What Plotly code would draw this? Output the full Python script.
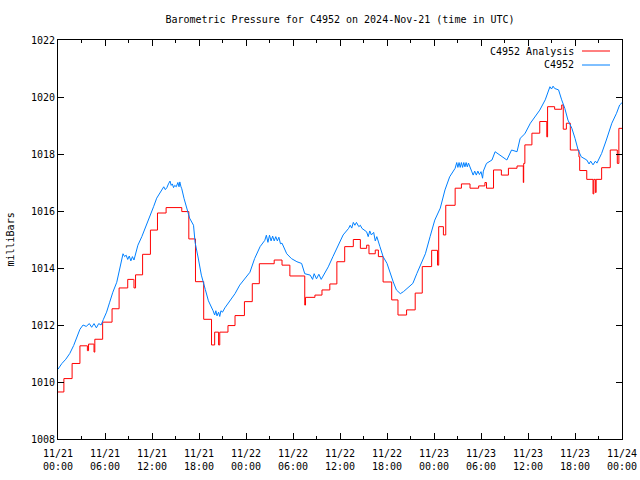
import plotly.graph_objects as go
from datetime import datetime, timedelta

start = datetime(2024, 11, 21, 0, 0)

# C4952 Analysis (step series): change hours and values (mb)
red_hours = [0.0, 0.75, 1.8, 2.8, 3.7, 3.75, 3.9, 4.55, 4.6, 4.7, 5.7, 6.9, 7.8, 8.9, 9.65, 9.7, 9.9,
             10.8, 11.8, 12.7, 13.8, 15.8, 16.7, 17.55, 18.6, 19.6, 20.0, 20.5, 20.65, 21.7,
             22.6, 23.8, 24.8, 25.7, 27.6, 28.6, 29.6, 31.5, 31.6, 32.8, 33.7, 34.7, 35.6,
             36.6, 37.7, 38.6, 39.4, 39.7, 40.5, 40.9, 41.5, 42.6, 43.4, 44.5, 45.6, 46.5,
             47.7, 48.4, 48.45, 48.6, 49.2, 49.5, 50.7, 51.5, 52.6, 53.7, 54.5, 54.7, 55.6,
             56.6, 57.5, 58.6, 59.4, 59.45, 59.6, 60.5, 61.5, 62.4, 62.5, 63.4, 64.3, 64.5,
             64.9, 65.4, 66.5, 66.6, 67.5, 68.3, 68.4, 68.6, 68.7, 69.4, 70.5, 71.4, 71.6, 72.0]
red_values = [1009.65, 1010.12, 1010.65, 1011.27, 1011.27, 1011.1, 1011.33, 1011.33, 1011.05, 1011.5,
              1012.1, 1012.57, 1013.3, 1013.6, 1013.6, 1013.3, 1013.76,
              1014.48, 1015.33, 1015.93, 1016.12, 1015.98, 1015.02, 1013.52, 1012.2, 1011.3,
              1011.75, 1011.3, 1011.75, 1011.98, 1012.33, 1012.82, 1013.45, 1014.15, 1014.28,
              1014.1, 1013.72, 1012.7, 1012.97, 1013.05, 1013.23, 1013.44, 1014.22, 1014.75,
              1015.0, 1014.69, 1014.8, 1014.5, 1014.63, 1014.4, 1013.51, 1012.88, 1012.35,
              1012.53, 1013.12, 1014.05, 1014.62, 1014.62, 1014.1, 1015.45, 1015.16, 1016.2,
              1016.8, 1016.95, 1016.8, 1016.88, 1017.0, 1016.8, 1017.44, 1017.26, 1017.5,
              1017.58, 1017.0, 1017.67, 1018.32, 1018.73, 1019.14, 1018.6, 1019.66, 1019.57,
              1019.72, 1018.87, 1019.08, 1018.14, 1017.9, 1017.42, 1017.11, 1016.6, 1017.11,
              1016.65, 1017.11, 1017.52, 1018.14, 1017.67, 1018.9, 1018.9]

# C4952 observed series: hours and values (mb)
blue_hours = [0, 0.5, 1.0, 1.5, 2.0, 2.4, 2.8, 3.2, 3.6, 4.0, 4.3, 4.6, 4.9, 5.2, 5.5, 5.8, 6.2,
              6.6, 7.0, 7.5, 7.9, 8.3, 8.5, 8.7, 8.9, 9.1, 9.3, 9.5, 9.7, 9.85, 10.2, 10.7,
              11.3, 11.7, 12.2, 12.6, 13.2, 13.5, 13.7, 13.9, 14.1, 14.3, 14.45, 14.6, 14.75,
              14.9, 15.1, 15.3, 15.45, 15.55, 15.7, 15.8, 16.1, 16.4, 16.8, 17.3, 17.5, 17.9,
              18.3, 18.8, 19.2, 19.8, 20.0, 20.15, 20.3, 20.5, 20.65, 20.8, 21.0, 21.3, 22.0,
              22.6, 23.2, 23.9, 24.5, 25.1, 25.8, 26.4, 26.6, 26.8, 27.0, 27.2, 27.4, 27.6,
              27.8, 28.0, 28.2, 28.4, 28.6, 29.2, 29.8, 30.5, 31.1, 31.5, 32.2, 32.5, 32.7,
              33.0, 33.3, 33.6, 33.9, 34.5, 35.1, 35.8, 36.4, 37.1, 37.3, 37.5, 37.7, 37.9,
              38.1, 38.4, 38.6, 38.8, 39.4, 39.6, 39.8, 40.0, 40.3, 40.5, 40.7, 41.1, 41.5,
              42.0, 42.4, 42.8, 43.2, 43.7, 44.1, 44.7, 45.3, 45.8, 46.2, 46.9, 47.5, 48.1,
              48.8, 49.4, 50.0, 50.7, 50.9, 51.05, 51.2, 51.35, 51.5, 51.65, 51.8, 51.95,
              52.1, 52.25, 52.4, 52.6, 52.8, 53.0, 53.2, 53.4, 53.6, 53.8, 54.0, 54.2, 54.3,
              54.7, 55.4, 55.8, 56.4, 57.3, 57.9, 58.6, 59.0, 59.6, 60.3, 60.9, 61.5, 62.2,
              62.8, 63.0, 63.2, 63.4, 63.9, 64.3, 64.7, 65.1, 65.6, 66.0, 66.4, 66.8, 67.5,
              67.8, 68.0, 68.3, 68.6, 68.8, 69.4, 70.0, 70.7, 71.3, 71.7, 72.0]
blue_values = [1010.45, 1010.65, 1010.8, 1011.0, 1011.28, 1011.6, 1011.85, 1012.0, 1011.95,
               1012.05, 1011.92, 1012.05, 1011.9, 1012.05, 1012.0, 1012.2, 1012.45, 1012.8,
               1013.15, 1013.5, 1014.05, 1014.5, 1014.4, 1014.45, 1014.3, 1014.42, 1014.25,
               1014.4, 1014.28, 1014.45, 1014.8, 1015.1,
               1015.5, 1015.8, 1016.15, 1016.45, 1016.72, 1016.85, 1016.75, 1016.82, 1016.95,
               1017.05, 1016.9, 1016.95, 1016.82, 1016.9, 1016.85, 1017.0, 1016.85, 1017.02,
               1016.85, 1016.78, 1016.43, 1016.1, 1015.75, 1015.5, 1014.9, 1014.35, 1013.75,
               1013.25, 1012.85, 1012.5, 1012.35, 1012.5, 1012.32, 1012.45, 1012.3, 1012.5,
               1012.45, 1012.6, 1012.88, 1013.1, 1013.4, 1013.64, 1013.85, 1014.33, 1014.75,
               1014.97, 1015.15, 1014.9, 1015.15, 1014.95, 1015.12, 1014.95, 1015.1, 1014.95,
               1015.08, 1014.85, 1014.87, 1014.5, 1014.33, 1014.22, 1014.16, 1013.8, 1013.75,
               1013.6, 1013.8, 1013.62, 1013.78, 1013.6, 1013.75, 1014.04, 1014.4, 1014.8,
               1015.16, 1015.39, 1015.5, 1015.4, 1015.6, 1015.5, 1015.6, 1015.45, 1015.5,
               1015.39, 1015.27, 1015.1, 1015.3, 1015.16, 1015.25, 1014.95, 1015.1, 1014.75,
               1014.4, 1014.16, 1013.8, 1013.51, 1013.23, 1013.1, 1013.17, 1013.3, 1013.46,
               1013.8, 1014.05, 1014.5, 1015.1, 1015.68, 1016.1, 1016.74, 1017.2, 1017.5,
               1017.7, 1017.53, 1017.7, 1017.53, 1017.7, 1017.53, 1017.7, 1017.55, 1017.7,
               1017.55, 1017.68, 1017.5, 1017.4, 1017.26, 1017.4, 1017.26, 1017.4, 1017.28,
               1017.38, 1017.15, 1017.4, 1017.67, 1017.79, 1018.08, 1017.97, 1017.79, 1018.14,
               1018.08, 1018.55, 1018.71, 1019.08, 1019.31, 1019.54, 1019.9, 1020.36, 1020.28,
               1020.38, 1020.3, 1020.25, 1019.9, 1019.6, 1019.19, 1018.9, 1018.55, 1018.14,
               1017.9, 1017.79, 1017.65, 1017.75, 1017.62, 1017.75, 1017.68, 1018.02, 1018.49,
               1019.08, 1019.43, 1019.72, 1019.8]

tick_hours = [0, 6, 12, 18, 24, 30, 36, 42, 48, 54, 60, 66, 72]
tick_labels = ["11/21<br>00:00", "11/21<br>06:00", "11/21<br>12:00", "11/21<br>18:00",
               "11/22<br>00:00", "11/22<br>06:00", "11/22<br>12:00", "11/22<br>18:00",
               "11/23<br>00:00", "11/23<br>06:00", "11/23<br>12:00", "11/23<br>18:00",
               "11/24<br>00:00"]
y_ticks = [1008, 1010, 1012, 1014, 1016, 1018, 1020, 1022]

def t(h):
    return start + timedelta(hours=h)

FONT = "DejaVu Sans Mono"
RED = "#ff0000"
BLUE = "#0080ff"

fig = go.Figure()
fig.add_trace(go.Scatter(x=[t(h) for h in red_hours], y=red_values, mode="lines",
                         line=dict(color=RED, width=1, shape="hv"),
                         name="C4952 Analysis", showlegend=False))
fig.add_trace(go.Scatter(x=[t(h) for h in blue_hours], y=blue_values, mode="lines",
                         line=dict(color=BLUE, width=1),
                         name="C4952", showlegend=False))

fig.update_layout(
    width=640, height=480,
    margin=dict(l=58, r=18, t=40, b=41),
    paper_bgcolor="white", plot_bgcolor="white",
    font=dict(family=FONT, size=10, color="black"),
    title=dict(text="Barometric Pressure for C4952 on 2024-Nov-21 (time in UTC)",
               x=340 / 640, xanchor="center", y=1 - 19 / 480, yanchor="middle",
               font=dict(family=FONT, size=10, color="black")),
    xaxis=dict(range=[t(0), t(72)], showgrid=False, zeroline=False, automargin=False,
               showline=True, linecolor="black", linewidth=1, mirror="ticks",
               ticks="inside", ticklen=6, tickcolor="black", ticklabelstandoff=5,
               tickvals=[t(h) for h in tick_hours], ticktext=tick_labels,
               minor=dict(ticks="inside", ticklen=3, tickcolor="black",
                          dtick=3 * 3600 * 1000, showgrid=False),
               tickfont=dict(family=FONT, size=10)),
    yaxis=dict(range=[1008, 1022], showgrid=False, zeroline=False, automargin=False,
               showline=True, linecolor="black", linewidth=1, mirror="ticks",
               ticks="inside", ticklen=6, tickcolor="black",
               tickvals=y_ticks, ticktext=[str(v) for v in y_ticks],
               tickfont=dict(family=FONT, size=10)),
    showlegend=False,
)

fig.add_annotation(text="milliBars", xref="paper", yref="paper", x=-48 / 564, y=0.5,
                   textangle=-90, showarrow=False, xanchor="center", yanchor="middle",
                   font=dict(family=FONT, size=10))

# legend (gnuplot style: text then line sample)
for i, (name, col) in enumerate([("C4952 Analysis", RED), ("C4952", BLUE)]):
    ypix = 51 + 14 * i
    yp = 1 - (ypix - 40) / 399
    fig.add_annotation(text=name, xref="paper", yref="paper", x=(575 - 58) / 564, y=yp,
                       xanchor="right", yanchor="middle", showarrow=False, borderpad=0,
                       font=dict(family=FONT, size=10))
    fig.add_shape(type="line", xref="paper", yref="paper",
                  x0=(582 - 58) / 564, x1=(610 - 58) / 564, y0=yp, y1=yp,
                  line=dict(color=col, width=1))

fig.write_html("out.html", config={"displayModeBar": False},
               post_script="document.body.style.margin='0px';")
